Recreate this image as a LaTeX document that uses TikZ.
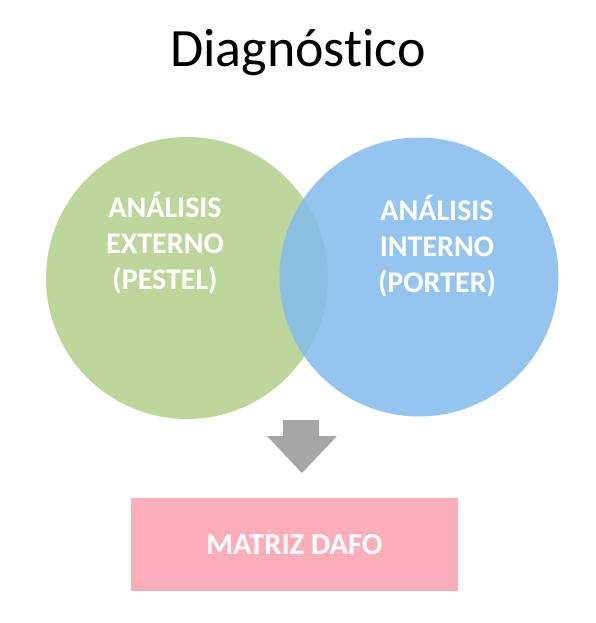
\documentclass[tikz,border=0pt]{standalone}
\usepackage{fontspec}
\setmainfont[Ligatures={NoCommon,NoRare,NoDiscretionary}]{Carlito}
\definecolor{cgreen}{RGB}{189,214,156}
\definecolor{cblue}{RGB}{130,187,235}
\definecolor{cgrey}{RGB}{166,166,166}
\definecolor{cpink}{RGB}{252,174,186}
\begin{document}
\begin{tikzpicture}[x=1pt,y=-1pt,
  circ/.style={circle,inner sep=0pt,minimum size=282pt},
  lbl/.style={text=white,font=\fontsize{30}{36}\selectfont\bfseries,align=center},
  box/.style={fill=cpink,draw=none,minimum width=327pt,minimum height=93pt,inner sep=0pt}]
\useasboundingbox (0,0) rectangle (596,623);
\node (title) at (298,53) {\fontsize{54}{56}\selectfont Diagnóstico};
\node[circ,fill=cgreen] (ext) at (187,278) {};
\node[circ,fill=cblue,fill opacity=0.85,minimum size=279pt] (int) at (419,277) {};
\node[lbl] (extl) at (165,243) {ANÁLISIS\\EXTERNO\\(PESTEL)};
\node[lbl] (intl) at (437,246) {ANÁLISIS\\INTERNO\\(PORTER)};
\node[box] (dafo) at (294.5,544.5) {};
\node[text=white,font=\fontsize{30.5}{32}\selectfont\bfseries] (dafol) at (dafo) {MATRIZ DAFO};
\coordinate (tip) at (302,473);
\fill[cgrey] (283,420) -- (319,420) -- (319,436) -- (337,436) -- (tip) -- (267,436) -- (283,436) -- cycle;
\end{tikzpicture}
\end{document}
